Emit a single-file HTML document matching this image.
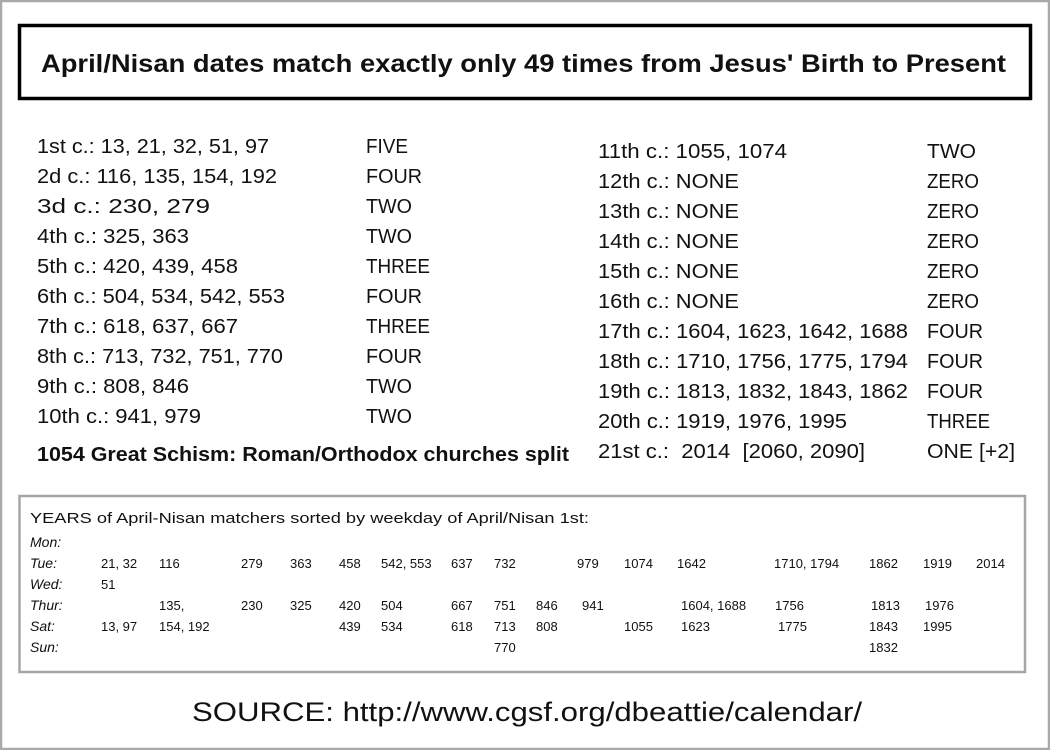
<!DOCTYPE html>
<html><head><meta charset="utf-8"><style>
html,body{margin:0;padding:0;background:#fff}
svg{display:block}
text{font-family:"Liberation Sans",sans-serif;fill:#111}
</style></head><body>
<svg width="1050" height="750" viewBox="0 0 1050 750" xmlns="http://www.w3.org/2000/svg">
<rect x="1" y="1" width="1048" height="748" fill="#fff" stroke="#a9a9a9" stroke-width="2.5"/>
<rect x="19.5" y="25.5" width="1011" height="73" fill="none" stroke="#000" stroke-width="3.5"/>
<text x="41" y="72" font-size="25" font-weight="bold" textLength="965" lengthAdjust="spacingAndGlyphs">April/Nisan dates match exactly only 49 times from Jesus' Birth to Present</text>
<g font-size="20">
<text x="37" y="153" textLength="232" lengthAdjust="spacingAndGlyphs">1st c.: 13, 21, 32, 51, 97</text>
<text x="37" y="183" textLength="240" lengthAdjust="spacingAndGlyphs">2d c.: 116, 135, 154, 192</text>
<text x="37" y="213" textLength="173" lengthAdjust="spacingAndGlyphs">3d c.: 230, 279</text>
<text x="37" y="243" textLength="152" lengthAdjust="spacingAndGlyphs">4th c.: 325, 363</text>
<text x="37" y="273" textLength="201" lengthAdjust="spacingAndGlyphs">5th c.: 420, 439, 458</text>
<text x="37" y="303" textLength="248" lengthAdjust="spacingAndGlyphs">6th c.: 504, 534, 542, 553</text>
<text x="37" y="333" textLength="201" lengthAdjust="spacingAndGlyphs">7th c.: 618, 637, 667</text>
<text x="37" y="363" textLength="246" lengthAdjust="spacingAndGlyphs">8th c.: 713, 732, 751, 770</text>
<text x="37" y="393" textLength="152" lengthAdjust="spacingAndGlyphs">9th c.: 808, 846</text>
<text x="37" y="423" textLength="164" lengthAdjust="spacingAndGlyphs">10th c.: 941, 979</text>
<text x="37" y="461" font-weight="bold" textLength="532" lengthAdjust="spacingAndGlyphs">1054 Great Schism: Roman/Orthodox churches split</text>
<text x="366" y="153" textLength="42" lengthAdjust="spacingAndGlyphs">FIVE</text>
<text x="366" y="183" textLength="56" lengthAdjust="spacingAndGlyphs">FOUR</text>
<text x="366" y="213" textLength="46" lengthAdjust="spacingAndGlyphs">TWO</text>
<text x="366" y="243" textLength="46" lengthAdjust="spacingAndGlyphs">TWO</text>
<text x="366" y="273" textLength="64" lengthAdjust="spacingAndGlyphs">THREE</text>
<text x="366" y="303" textLength="56" lengthAdjust="spacingAndGlyphs">FOUR</text>
<text x="366" y="333" textLength="64" lengthAdjust="spacingAndGlyphs">THREE</text>
<text x="366" y="363" textLength="56" lengthAdjust="spacingAndGlyphs">FOUR</text>
<text x="366" y="393" textLength="46" lengthAdjust="spacingAndGlyphs">TWO</text>
<text x="366" y="423" textLength="46" lengthAdjust="spacingAndGlyphs">TWO</text>

<text x="598" y="158" textLength="189" lengthAdjust="spacingAndGlyphs">11th c.: 1055, 1074</text>
<text x="598" y="188" textLength="141" lengthAdjust="spacingAndGlyphs">12th c.: NONE</text>
<text x="598" y="218" textLength="141" lengthAdjust="spacingAndGlyphs">13th c.: NONE</text>
<text x="598" y="248" textLength="141" lengthAdjust="spacingAndGlyphs">14th c.: NONE</text>
<text x="598" y="278" textLength="141" lengthAdjust="spacingAndGlyphs">15th c.: NONE</text>
<text x="598" y="308" textLength="141" lengthAdjust="spacingAndGlyphs">16th c.: NONE</text>
<text x="598" y="338" textLength="310" lengthAdjust="spacingAndGlyphs">17th c.: 1604, 1623, 1642, 1688</text>
<text x="598" y="368" textLength="310" lengthAdjust="spacingAndGlyphs">18th c.: 1710, 1756, 1775, 1794</text>
<text x="598" y="398" textLength="310" lengthAdjust="spacingAndGlyphs">19th c.: 1813, 1832, 1843, 1862</text>
<text x="598" y="428" textLength="249" lengthAdjust="spacingAndGlyphs">20th c.: 1919, 1976, 1995</text>
<text x="598" y="458" textLength="267" lengthAdjust="spacingAndGlyphs" xml:space="preserve">21st c.:  2014  [2060, 2090]</text>
<text x="927" y="158" textLength="49" lengthAdjust="spacingAndGlyphs">TWO</text>
<text x="927" y="188" textLength="52" lengthAdjust="spacingAndGlyphs">ZERO</text>
<text x="927" y="218" textLength="52" lengthAdjust="spacingAndGlyphs">ZERO</text>
<text x="927" y="248" textLength="52" lengthAdjust="spacingAndGlyphs">ZERO</text>
<text x="927" y="278" textLength="52" lengthAdjust="spacingAndGlyphs">ZERO</text>
<text x="927" y="308" textLength="52" lengthAdjust="spacingAndGlyphs">ZERO</text>
<text x="927" y="338" textLength="56" lengthAdjust="spacingAndGlyphs">FOUR</text>
<text x="927" y="368" textLength="56" lengthAdjust="spacingAndGlyphs">FOUR</text>
<text x="927" y="398" textLength="56" lengthAdjust="spacingAndGlyphs">FOUR</text>
<text x="927" y="428" textLength="63" lengthAdjust="spacingAndGlyphs">THREE</text>
<text x="927" y="458" textLength="88" lengthAdjust="spacingAndGlyphs">ONE [+2]</text>
</g>

<rect x="19.5" y="496" width="1005.5" height="176" fill="#fff" stroke="#a6a6a6" stroke-width="2.5"/>
<text x="30" y="523" font-size="15" textLength="559" lengthAdjust="spacingAndGlyphs">YEARS of April-Nisan matchers sorted by weekday of April/Nisan 1st:</text>
<g font-size="14" font-style="italic">
<text x="30" y="547">Mon:</text>
<text x="30" y="568">Tue:</text>
<text x="30" y="589">Wed:</text>
<text x="30" y="610">Thur:</text>
<text x="30" y="631">Sat:</text>
<text x="30" y="652">Sun:</text>
</g>
<g font-size="13">
<text x="101" y="568">21, 32</text><text x="159" y="568">116</text><text x="241" y="568">279</text><text x="290" y="568">363</text><text x="339" y="568">458</text><text x="381" y="568">542, 553</text><text x="451" y="568">637</text><text x="494" y="568">732</text>
<text x="577" y="568">979</text><text x="624" y="568">1074</text><text x="677" y="568">1642</text><text x="774" y="568">1710, 1794</text><text x="869" y="568">1862</text><text x="923" y="568">1919</text><text x="976" y="568">2014</text>
<text x="101" y="589">51</text>
<text x="159" y="610">135,</text><text x="241" y="610">230</text><text x="290" y="610">325</text><text x="339" y="610">420</text><text x="381" y="610">504</text><text x="451" y="610">667</text><text x="494" y="610">751</text>
<text x="536" y="610">846</text><text x="582" y="610">941</text><text x="681" y="610">1604, 1688</text><text x="775" y="610">1756</text><text x="871" y="610">1813</text><text x="925" y="610">1976</text>
<text x="101" y="631">13, 97</text><text x="159" y="631">154, 192</text><text x="339" y="631">439</text><text x="381" y="631">534</text><text x="451" y="631">618</text><text x="494" y="631">713</text>
<text x="536" y="631">808</text><text x="624" y="631">1055</text><text x="681" y="631">1623</text><text x="778" y="631">1775</text><text x="869" y="631">1843</text><text x="923" y="631">1995</text>
<text x="494" y="652">770</text><text x="869" y="652">1832</text>
</g>
<text x="192" y="721" font-size="27" textLength="670" lengthAdjust="spacingAndGlyphs">SOURCE: http://www.cgsf.org/dbeattie/calendar/</text>
</svg>
</body></html>
